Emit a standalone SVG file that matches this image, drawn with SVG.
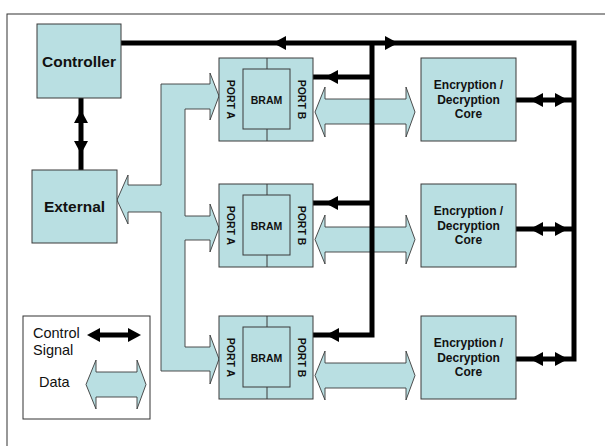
<svg xmlns="http://www.w3.org/2000/svg" xmlns:xlink="http://www.w3.org/1999/xlink" width="605" height="446" viewBox="0 0 605 446">
<style>
.box{fill:#B9DFE2;stroke:#3a3a3a;stroke-width:1}
.data{fill:#B9DFE2;stroke:#3a3a3a;stroke-width:0.9;stroke-linejoin:miter}
.ctl{fill:none;stroke:#000;stroke-width:5;stroke-linecap:butt;stroke-linejoin:miter}
.ah{fill:#000}
.t{font-family:"Liberation Sans",Arial,sans-serif;font-weight:bold;fill:#111;text-anchor:middle}
.big{font-size:15.5px}
.core{font-size:12px}
.sm{font-size:10.5px}
.leg{font-family:"Liberation Sans",Arial,sans-serif;font-size:14.5px;fill:#111}
.div{stroke:#3a3a3a;stroke-width:1}
</style>
<defs>
<path id="ah" d="M0,0 L13,-7 L13,7 Z"/>
<g id="bram">
<rect class="box" x="0" y="0" width="94" height="83"/>
<rect class="box" x="24" y="11" width="47" height="60"/>
<line class="div" x1="48" y1="0" x2="48" y2="11"/>
<line class="div" x1="48" y1="71" x2="48" y2="83"/>
<text class="t sm" x="47.5" y="45.5">BRAM</text>
<text class="t sm" transform="translate(8,41.5) rotate(90)">PORT A</text>
<text class="t sm" transform="translate(78.5,41.5) rotate(90)">PORT B</text>
</g>
</defs>
<rect x="7" y="14" width="620" height="450" fill="#fff" stroke="#333" stroke-width="1"/>

<g id="connectors">
<!-- data bus -->
<polygon class="data" points="161,84 210,84 210,73 219,96 210,120 210,109 185,109 185,216 210,216 210,204 219,228 210,252 210,240 185,240 185,347 210,347 210,335 219,359 210,384 210,371 161,371 161,212 128,212 128,224 117,200 128,175 128,185 161,185"/>
<!-- data arrows BRAM port B to cores -->
<polygon class="data" points="315,112 325,87 325,99 406,99 406,87 415,112 406,137 406,124 325,124 325,137"/>
<polygon class="data" points="315,239.5 325,215 325,227 406,227 406,215 415,239.5 406,264 406,252 325,252 325,264"/>
<polygon class="data" points="315,375.5 325,351 325,363 406,363 406,351 415,375.5 406,400 406,388 325,388 325,400"/>
<!-- control lines -->
<polyline class="ctl" points="121,43 574,43 574,359 516,359"/>
<polyline class="ctl" points="372,43 372,335 313,335"/>
<line class="ctl" x1="372" y1="77" x2="313" y2="77"/>
<line class="ctl" x1="372" y1="203" x2="313" y2="203"/>
<line class="ctl" x1="516" y1="100" x2="574" y2="100"/>
<line class="ctl" x1="516" y1="229" x2="574" y2="229"/>
<line class="ctl" x1="81" y1="98" x2="81" y2="170"/>
<!-- arrowheads -->
<use href="#ah" class="ah" transform="translate(273,43)"/>
<use href="#ah" class="ah" transform="translate(398,43) rotate(180)"/>
<use href="#ah" class="ah" transform="translate(325,77)"/>
<use href="#ah" class="ah" transform="translate(325,203)"/>
<use href="#ah" class="ah" transform="translate(326,335)"/>
<use href="#ah" class="ah" transform="translate(530,100)"/>
<use href="#ah" class="ah" transform="translate(568,100) rotate(180)"/>
<use href="#ah" class="ah" transform="translate(530,229)"/>
<use href="#ah" class="ah" transform="translate(568,229) rotate(180)"/>
<use href="#ah" class="ah" transform="translate(530,359)"/>
<use href="#ah" class="ah" transform="translate(568,359) rotate(180)"/>
<use href="#ah" class="ah" transform="translate(81,110) rotate(90)"/>
<use href="#ah" class="ah" transform="translate(81,154) rotate(-90)"/>
</g>

<g id="controller">
<rect class="box" x="37" y="24" width="84" height="74"/>
<text class="t big" x="79" y="66.5">Controller</text>
</g>
<g id="external">
<rect class="box" x="32" y="170" width="85" height="73"/>
<text class="t big" x="74.5" y="212">External</text>
</g>

<g id="bram1"><use href="#bram" transform="translate(219,58)"/></g>
<g id="bram2"><use href="#bram" transform="translate(219,184)"/></g>
<g id="bram3"><use href="#bram" transform="translate(219,316)"/></g>

<g id="core1">
<rect class="box" x="421" y="58" width="95" height="83"/>
<text class="t core" x="468.5" y="89">Encryption /</text>
<text class="t core" x="468.5" y="103.5">Decryption</text>
<text class="t core" x="468.5" y="118">Core</text>
</g>
<g id="core2">
<rect class="box" x="421" y="184" width="95" height="83"/>
<text class="t core" x="468.5" y="215">Encryption /</text>
<text class="t core" x="468.5" y="229.5">Decryption</text>
<text class="t core" x="468.5" y="244">Core</text>
</g>
<g id="core3">
<rect class="box" x="421" y="316" width="95" height="83"/>
<text class="t core" x="468.5" y="347">Encryption /</text>
<text class="t core" x="468.5" y="361.5">Decryption</text>
<text class="t core" x="468.5" y="376">Core</text>
</g>

<g id="legend">
<rect x="23" y="316" width="127" height="103" fill="#fff" stroke="#333" stroke-width="1"/>
<text class="leg" x="33" y="338">Control</text>
<text class="leg" x="33" y="355">Signal</text>
<text class="leg" x="39" y="387">Data</text>
<line class="ctl" x1="95" y1="335" x2="133" y2="335"/>
<use href="#ah" class="ah" transform="translate(87,335)"/>
<use href="#ah" class="ah" transform="translate(141,335) rotate(180)"/>
<polygon class="data" points="86,384.5 96,360 96,372 137,372 137,360 146,384.5 137,409 137,397 96,397 96,409"/>
</g>
</svg>
